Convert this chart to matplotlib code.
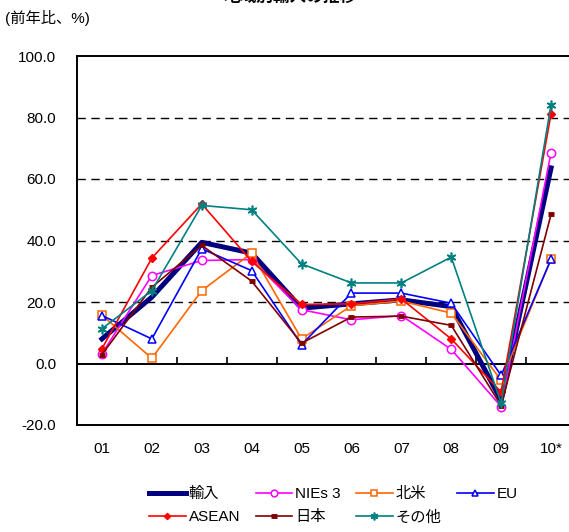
import matplotlib
matplotlib.use("Agg")
from matplotlib import pyplot as plt
import numpy as np

plt.rcParams['font.family'] = ['Liberation Sans', 'Noto Sans CJK JP', 'DejaVu Sans']

years = ['01', '02', '03', '04', '05', '06', '07', '08', '09', '10*']

imports = [8.0, 21.6, 39.4, 35.9, 18.0, 19.4, 20.7, 18.5, -12.0, 63.6]
nies3 = [3.2, 28.6, 33.5, 33.8, 17.5, 14.2, 15.6, 4.6, -14.0, 68.6]
north_america = [15.7, 1.7, 23.7, 35.9, 8.0, 18.8, 20.3, 16.4, -5.5, 34.0]
eu = [15.6, 8.0, 37.3, 30.2, 6.1, 22.9, 22.9, 19.6, -3.9, 33.9]
asean = [4.8, 34.3, 51.9, 33.2, 19.2, 19.4, 21.0, 8.0, -9.3, 81.2]
japan = [2.9, 24.8, 38.4, 26.8, 6.6, 15.1, 15.4, 12.4, -13.7, 48.5]
others = [11.3, 23.7, 51.4, 50.0, 32.4, 26.2, 26.2, 34.6, -12.9, 84.2]

x = np.arange(len(years))

fig = plt.figure(figsize=(5.69, 5.32), dpi=100)
ax = fig.add_axes([77 / 569, (532 - 425) / 532, 499 / 569, 369 / 532])

# series, drawn in the same order as the original workbook
h_imp, = ax.plot(x, imports, color='#000080', lw=3.6, label='輸入', zorder=3)
h_nie, = ax.plot(x, nies3, color='#FF00FF', lw=1.2, marker='o', ms=6, mfc='white',
                 mec='#FF00FF', mew=1.1, label='NIEs 3', zorder=3)
h_na, = ax.plot(x, north_america, color='#FF6600', lw=1.2, marker='s', ms=5.5,
                mfc='white', mec='#FF6600', mew=1.1, label='北米', zorder=3)
h_eu, = ax.plot(x, eu, color='#0000FF', lw=1.2, marker='^', ms=6, mfc='white',
                mec='#0000FF', mew=1.1, label='EU', zorder=3)
h_as, = ax.plot(x, asean, color='#FF0000', lw=1.2, marker='D', ms=4, mfc='#FF0000',
                mec='#FF0000', label='ASEAN', zorder=3)
h_jp, = ax.plot(x, japan, color='#800000', lw=1.2, marker='_', ms=5, mew=3.5,
                mec='#800000', label='日本', zorder=3)
h_ot, = ax.plot(x, others, color='#008080', lw=1.2, marker=(6, 2, 0), ms=7, mew=1.2,
                mec='#008080', label='その他', zorder=3)

ax.set_xlim(-0.5, len(years) - 0.5)
ax.set_ylim(-20, 100)
ax.set_yticks(np.arange(-20, 101, 20))
ax.set_yticklabels([f'{v:.1f}' for v in np.arange(-20, 101, 20)], fontsize=11)
ax.set_xticks(x)
ax.set_xticklabels(years, fontsize=11)
ax.tick_params(axis='y', length=0, pad=15)
ax.tick_params(axis='x', length=0, pad=12)

for v in [20, 40, 60, 80]:
    ax.axhline(v, color='black', lw=1.0, ls=(0, (6, 4)), zorder=1)
ax.axhline(0, color='black', lw=1.4, zorder=2)
ax.vlines(x[:-1] + 0.5, 0, 2.2, color='black', lw=1.2, zorder=2)

for s in ax.spines.values():
    s.set_linewidth(1.4)

fig.text(0.008, 1 - 18 / 532, '(前年比、%)', fontsize=11, va='center', ha='left')
fig.text(0.51, 1 - 5 / 532, '地域別輸入の推移', fontsize=12, fontweight='bold',
         ha='center', va='bottom')

# legend filled row by row like the original (matplotlib fills by column)
handles = [h_imp, h_as, h_nie, h_jp, h_na, h_ot, h_eu]
ax.legend(handles=handles, labels=[h.get_label() for h in handles],
          loc='upper left', bbox_to_anchor=(72 / 499, -0.168), ncol=4,
          frameon=False, fontsize=11, handlelength=2.4, handletextpad=0.2,
          columnspacing=1.0, labelspacing=0.6, borderaxespad=0, borderpad=0,
          markerscale=0.8)

fig.savefig('out.png', dpi=100)
